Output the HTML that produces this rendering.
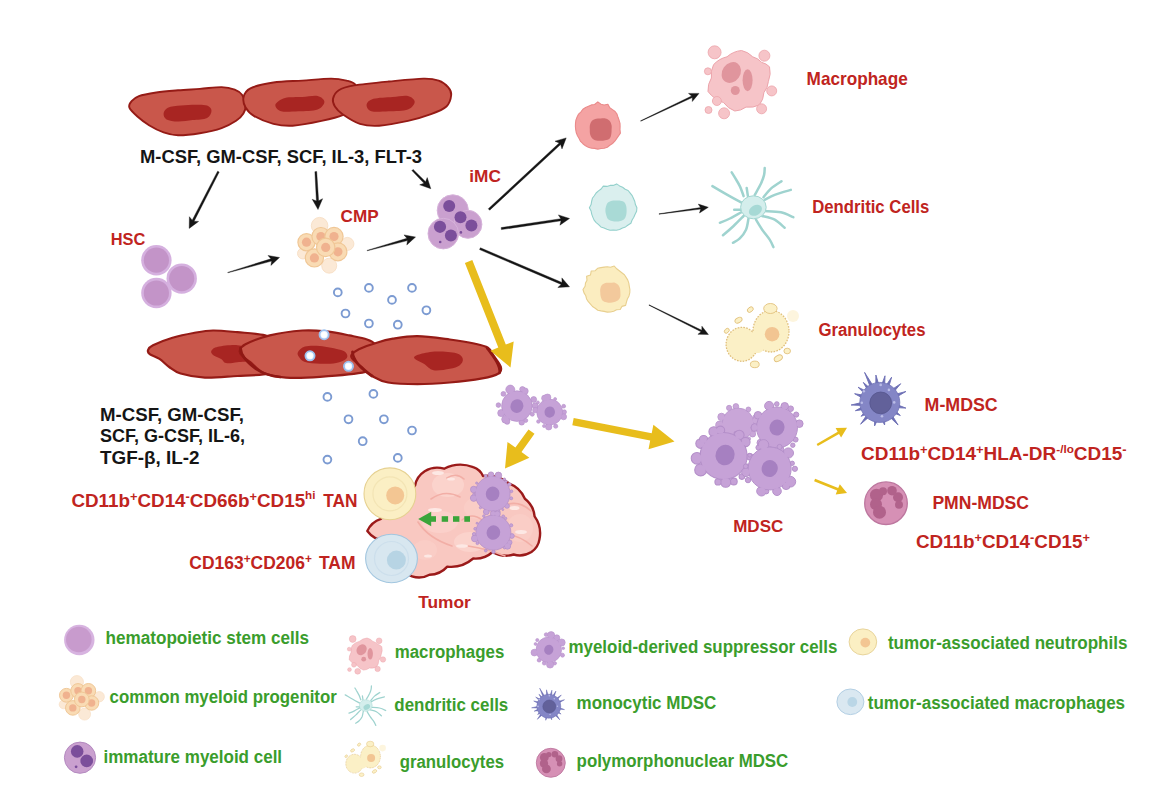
<!DOCTYPE html>
<html><head><meta charset="utf-8"><style>
html,body{margin:0;padding:0;background:#fff;width:1171px;height:804px;overflow:hidden}
svg{display:block}
text{font-family:"Liberation Sans",sans-serif}
</style></head><body>
<svg width="1171" height="804" viewBox="0 0 1171 804">
<rect width="1171" height="804" fill="#fff"/>
<path d="M129.4,107.7 C128.4,105.2 130.0,103.1 131.6,101.2 C133.2,99.3 134.8,97.5 138.9,96.1 C143.0,94.6 149.8,93.5 156.3,92.5 C162.8,91.5 170.8,90.9 178.0,90.3 C185.2,89.7 192.5,89.4 199.8,88.9 C207.1,88.4 215.8,87.0 221.6,87.1 C227.4,87.2 231.3,88.3 234.7,89.6 C238.1,90.9 240.2,92.2 242.0,94.7 C243.8,97.2 245.4,101.7 245.6,104.8 C245.8,107.9 245.0,110.9 243.4,113.6 C241.8,116.3 239.7,118.4 236.1,120.8 C232.5,123.2 227.6,126.0 221.6,128.1 C215.6,130.2 207.1,132.0 199.8,133.2 C192.5,134.4 184.0,135.4 178.0,135.3 C172.0,135.2 168.4,134.1 163.6,132.4 C158.8,130.7 153.4,127.9 149.0,125.2 C144.6,122.5 140.7,119.4 137.4,116.5 C134.1,113.6 130.4,110.2 129.4,107.7 Z" fill="#c9574b" stroke="#951b16" stroke-width="1.9"/><path d="M163.6,113.6 C163.8,111.6 165.0,109.0 167.9,107.7 C170.8,106.4 176.4,106.1 181.0,105.6 C185.6,105.1 191.2,104.8 195.5,104.8 C199.8,104.8 204.4,104.6 207.1,105.6 C209.8,106.6 211.5,108.7 211.5,110.7 C211.5,112.8 210.2,116.3 207.1,117.9 C203.9,119.5 197.4,119.5 192.6,120.1 C187.8,120.7 182.3,121.6 178.0,121.5 C173.7,121.4 168.9,120.7 166.5,119.4 C164.1,118.1 163.4,115.5 163.6,113.6 Z" fill="#a82522"/>
<path d="M243.6,96.9 C244.4,93.7 245.4,90.7 250.4,88.3 C255.4,85.9 264.8,83.8 273.4,82.5 C282.0,81.2 292.7,81.2 302.3,80.6 C311.9,79.9 323.7,78.6 331.1,78.6 C338.5,78.6 342.5,79.6 346.5,80.6 C350.5,81.6 353.2,82.0 355.1,84.4 C357.0,86.8 358.9,91.1 358.0,95.0 C357.1,98.9 352.6,104.6 350.0,108.0 C347.4,111.4 347.4,113.0 342.6,115.2 C337.9,117.4 329.8,119.2 321.5,120.9 C313.2,122.7 300.6,125.2 292.6,125.7 C284.6,126.2 279.8,125.4 273.4,123.8 C267.0,122.2 258.8,118.8 254.2,116.1 C249.6,113.4 247.4,110.7 245.6,107.5 C243.8,104.3 242.8,100.1 243.6,96.9 Z" fill="#c9574b" stroke="#951b16" stroke-width="1.9"/><path d="M275.4,104.6 C276.0,102.4 280.5,99.2 285.0,97.9 C289.5,96.6 296.9,97.2 302.3,96.9 C307.7,96.6 313.9,95.1 317.6,95.9 C321.3,96.7 324.4,99.5 324.4,101.7 C324.4,104.0 321.9,107.8 317.6,109.4 C313.3,111.0 304.5,111.0 298.4,111.3 C292.3,111.6 284.9,112.4 281.1,111.3 C277.3,110.2 274.8,106.8 275.4,104.6 Z" fill="#a82522"/>
<path d="M333.0,98.8 C333.6,96.1 335.3,92.4 338.8,90.2 C342.3,88.0 345.8,86.9 354.1,85.4 C362.4,84.0 377.2,82.6 388.7,81.5 C400.2,80.4 415.0,78.8 423.3,78.6 C431.6,78.4 434.5,79.1 438.7,80.6 C442.9,82.0 446.2,84.9 448.3,87.3 C450.4,89.7 451.5,91.8 451.2,95.0 C450.9,98.2 449.8,103.3 446.4,106.5 C443.0,109.7 437.4,111.8 431.0,114.2 C424.6,116.6 416.6,119.0 408.0,120.9 C399.4,122.8 387.1,125.2 379.1,125.7 C371.1,126.2 366.0,125.7 359.9,123.8 C353.8,121.9 346.8,117.1 342.6,114.2 C338.4,111.3 336.5,109.1 334.9,106.5 C333.3,103.9 332.4,101.5 333.0,98.8 Z" fill="#c9574b" stroke="#951b16" stroke-width="1.9"/><path d="M366.6,104.6 C366.9,102.5 369.1,100.1 373.4,98.8 C377.7,97.5 386.9,97.4 392.6,96.9 C398.4,96.4 404.2,95.1 407.9,95.9 C411.6,96.7 414.7,99.5 414.7,101.7 C414.7,104.0 412.2,107.8 407.9,109.4 C403.6,111.0 394.8,111.0 388.7,111.3 C382.6,111.6 375.1,112.4 371.4,111.3 C367.7,110.2 366.3,106.7 366.6,104.6 Z" fill="#a82522"/>
<path d="M148.1,350.0 C148.7,348.5 148.9,347.2 153.0,345.2 C157.1,343.2 165.8,339.8 172.5,337.8 C179.2,335.8 186.8,334.2 193.5,333.0 C200.2,331.8 205.7,330.6 213.0,330.5 C220.3,330.4 228.7,331.4 237.4,332.2 C246.1,333.0 257.9,333.3 265.0,335.4 C272.1,337.5 277.5,339.2 280.0,345.0 C282.5,350.8 282.8,365.1 280.0,370.0 C277.2,374.9 270.4,373.4 263.3,374.4 C256.2,375.4 247.1,375.5 237.4,376.0 C227.7,376.5 214.4,378.0 204.9,377.6 C195.4,377.2 186.6,375.3 180.6,373.5 C174.6,371.7 172.7,369.4 169.2,367.0 C165.7,364.6 162.8,361.0 159.5,358.9 C156.2,356.8 151.6,355.6 149.7,354.1 C147.8,352.6 147.5,351.5 148.1,350.0 Z" fill="#c9574b" stroke="#951b16" stroke-width="2.2"/><path d="M211.4,350.8 C212.2,349.5 213.6,347.7 217.9,346.8 C222.2,345.9 232.1,344.7 237.4,345.2 C242.8,345.7 247.9,347.5 250.0,350.0 C252.1,352.5 252.1,358.0 250.0,360.0 C247.9,362.0 241.4,361.7 237.4,362.2 C233.4,362.7 228.7,363.6 226.0,363.0 C223.3,362.4 223.3,360.2 221.1,358.9 C218.9,357.5 214.6,356.2 213.0,354.9 C211.4,353.5 210.6,352.1 211.4,350.8 Z" fill="#a82522"/>
<path d="M239.8,350.8 C240.4,348.9 240.5,346.9 245.5,344.3 C250.5,341.7 260.3,337.7 269.8,335.4 C279.3,333.1 292.8,331.2 302.3,330.5 C311.8,329.8 318.8,330.6 326.6,331.4 C334.4,332.2 342.5,334.0 349.2,335.4 C355.9,336.8 362.7,338.0 367.0,339.5 C371.3,341.0 373.4,342.2 375.2,344.3 C377.0,346.4 378.5,348.6 378.0,352.0 C377.5,355.4 374.1,361.7 372.0,365.0 C369.9,368.3 374.1,369.9 365.4,371.9 C356.7,373.9 333.2,375.9 320.0,376.8 C306.8,377.8 295.4,378.3 286.0,377.6 C276.6,376.9 269.2,375.3 263.3,372.7 C257.4,370.1 253.8,365.0 250.3,362.2 C246.8,359.4 243.9,357.6 242.2,355.7 C240.4,353.8 239.2,352.7 239.8,350.8 Z" fill="#c9574b" stroke="#951b16" stroke-width="2.2"/><path d="M298.0,352.0 C299.0,350.2 301.3,347.5 305.0,346.5 C308.7,345.5 314.0,345.4 320.0,346.0 C326.0,346.6 336.5,348.7 341.0,350.0 C345.5,351.3 346.0,352.5 346.8,354.0 C347.6,355.5 347.8,357.5 346.0,359.0 C344.2,360.5 340.5,362.2 336.2,363.0 C331.9,363.8 325.2,364.0 320.0,363.8 C314.8,363.6 308.5,363.1 305.0,362.0 C301.5,360.9 300.2,358.7 299.0,357.0 C297.8,355.3 297.0,353.8 298.0,352.0 Z" fill="#a82522"/>
<path d="M351.6,354.9 C352.7,353.3 354.7,351.2 358.9,349.2 C363.1,347.2 371.1,344.4 376.8,342.7 C382.5,340.9 386.2,339.8 393.0,338.7 C399.8,337.6 407.9,336.1 417.4,336.2 C426.9,336.3 440.4,338.3 449.8,339.5 C459.2,340.7 467.8,342.1 474.1,343.5 C480.5,344.9 484.6,345.6 487.9,347.6 C491.1,349.6 491.4,352.4 493.6,355.7 C495.8,358.9 500.1,364.1 500.9,367.1 C501.7,370.1 501.6,371.6 498.5,373.5 C495.4,375.4 490.4,376.9 482.3,378.4 C474.2,379.9 460.6,381.6 449.8,382.5 C439.0,383.4 427.7,384.1 417.4,384.1 C407.1,384.1 395.4,383.7 388.1,382.5 C380.8,381.3 378.1,379.5 373.5,376.8 C368.9,374.1 364.1,369.2 360.6,366.2 C357.1,363.2 354.0,360.8 352.5,358.9 C351.0,357.0 350.5,356.5 351.6,354.9 Z" fill="#c9574b" stroke="#951b16" stroke-width="2.2"/><path d="M414.1,358.1 C413.6,356.5 416.8,355.2 420.6,354.1 C424.4,353.0 430.9,351.7 436.8,351.6 C442.8,351.5 452.0,352.1 456.3,353.3 C460.6,354.5 462.3,356.9 462.8,358.9 C463.3,360.9 461.7,363.8 459.5,365.4 C457.3,367.0 454.1,367.9 449.8,368.7 C445.5,369.5 437.9,371.1 433.6,370.3 C429.3,369.5 427.1,365.8 423.8,363.8 C420.6,361.8 414.6,359.7 414.1,358.1 Z" fill="#a82522"/>
<path d="M240.5,348 C241,356 247,362 256,369 C262,373 270,376 280,377" fill="none" stroke="#8f1814" stroke-width="2.6" stroke-linecap="round"/>
<path d="M352.5,352 C353,360 360,368 372,376" fill="none" stroke="#8f1814" stroke-width="2.8" stroke-linecap="round"/><path d="M487,348 C493,356 501,366 499.5,373" fill="none" stroke="#8f1814" stroke-width="2.6" stroke-linecap="round"/>
<circle cx="337.8" cy="292.4" r="3.9" fill="#fff" stroke="#7c9bd2" stroke-width="1.9"/>
<circle cx="368.9" cy="287.9" r="3.9" fill="#fff" stroke="#7c9bd2" stroke-width="1.9"/>
<circle cx="412" cy="287.9" r="3.9" fill="#fff" stroke="#7c9bd2" stroke-width="1.9"/>
<circle cx="392" cy="299.9" r="3.9" fill="#fff" stroke="#7c9bd2" stroke-width="1.9"/>
<circle cx="345.5" cy="313.5" r="3.9" fill="#fff" stroke="#7c9bd2" stroke-width="1.9"/>
<circle cx="368.9" cy="323.5" r="3.9" fill="#fff" stroke="#7c9bd2" stroke-width="1.9"/>
<circle cx="397.8" cy="324.7" r="3.9" fill="#fff" stroke="#7c9bd2" stroke-width="1.9"/>
<circle cx="426.4" cy="310.3" r="3.9" fill="#fff" stroke="#7c9bd2" stroke-width="1.9"/>
<circle cx="327.4" cy="396.9" r="3.9" fill="#fff" stroke="#7c9bd2" stroke-width="1.9"/>
<circle cx="373.4" cy="393.9" r="3.9" fill="#fff" stroke="#7c9bd2" stroke-width="1.9"/>
<circle cx="348.5" cy="419.3" r="3.9" fill="#fff" stroke="#7c9bd2" stroke-width="1.9"/>
<circle cx="383.9" cy="419.3" r="3.9" fill="#fff" stroke="#7c9bd2" stroke-width="1.9"/>
<circle cx="412" cy="430.5" r="3.9" fill="#fff" stroke="#7c9bd2" stroke-width="1.9"/>
<circle cx="362.7" cy="441.2" r="3.9" fill="#fff" stroke="#7c9bd2" stroke-width="1.9"/>
<circle cx="327.4" cy="459.6" r="3.9" fill="#fff" stroke="#7c9bd2" stroke-width="1.9"/>
<circle cx="397.8" cy="457.9" r="3.9" fill="#fff" stroke="#7c9bd2" stroke-width="1.9"/>
<circle cx="324.1" cy="334.7" r="4.6" fill="#eef4ff" stroke="#9cc0ee" stroke-width="1.8"/>
<circle cx="324.1" cy="334.7" r="2.8" fill="#fff"/>
<circle cx="310" cy="355.8" r="4.6" fill="#eef4ff" stroke="#9cc0ee" stroke-width="1.8"/>
<circle cx="310" cy="355.8" r="2.8" fill="#fff"/>
<circle cx="348.5" cy="366.3" r="4.6" fill="#eef4ff" stroke="#9cc0ee" stroke-width="1.8"/>
<circle cx="348.5" cy="366.3" r="2.8" fill="#fff"/>
<circle cx="156.4" cy="260.2" r="15.2" fill="#d5b0df"/><circle cx="156.4" cy="260.2" r="12.6" fill="#c394c8"/>
<circle cx="181.7" cy="278.6" r="15.2" fill="#d5b0df"/><circle cx="181.7" cy="278.6" r="12.6" fill="#c394c8"/>
<circle cx="156.4" cy="293" r="15.2" fill="#d5b0df"/><circle cx="156.4" cy="293" r="12.6" fill="#c394c8"/>
<circle cx="319.6" cy="225.7" r="8.3" fill="#fbe9d6" stroke="#f6dcc0" stroke-width="0.8"/><circle cx="347.4" cy="243.9" r="6.5" fill="#fbe9d6" stroke="#f6dcc0" stroke-width="0.8"/><circle cx="329.2" cy="265.7" r="7.5" fill="#fbe9d6" stroke="#f6dcc0" stroke-width="0.8"/><circle cx="303.0" cy="253.5" r="5.5" fill="#fbe9d6" stroke="#f6dcc0" stroke-width="0.8"/><circle cx="306.5" cy="242.2" r="8.6" fill="#f9dbb4" stroke="#f0c796" stroke-width="1.2"/><circle cx="306.5" cy="242.2" r="4.6" fill="#f0b28f"/><circle cx="320.9" cy="236.5" r="9.0" fill="#f9dbb4" stroke="#f0c796" stroke-width="1.2"/><circle cx="320.9" cy="236.5" r="4.6" fill="#f0b28f"/><circle cx="334.0" cy="236.5" r="9.1" fill="#f9dbb4" stroke="#f0c796" stroke-width="1.2"/><circle cx="334.0" cy="236.5" r="4.6" fill="#f0b28f"/><circle cx="337.9" cy="251.8" r="9.0" fill="#f9dbb4" stroke="#f0c796" stroke-width="1.2"/><circle cx="337.9" cy="251.8" r="4.6" fill="#f0b28f"/><circle cx="314.4" cy="257.9" r="9.1" fill="#f9dbb4" stroke="#f0c796" stroke-width="1.2"/><circle cx="314.4" cy="257.9" r="4.6" fill="#f0b28f"/><circle cx="325.7" cy="247.4" r="9.2" fill="#f9dbb4" stroke="#f0c796" stroke-width="1.2"/><circle cx="325.7" cy="247.4" r="4.6" fill="#f0b28f"/>
<circle cx="452.8" cy="210.4" r="15.6" fill="#caa0cf" stroke="#d6b2da" stroke-width="1.0"/><circle cx="467.9" cy="224.3" r="14.0" fill="#caa0cf" stroke="#d6b2da" stroke-width="1.0"/><circle cx="443.3" cy="233.6" r="15.3" fill="#caa0cf" stroke="#d6b2da" stroke-width="1.0"/><circle cx="449.2" cy="205.9" r="6.0" fill="#7b4e9b"/><circle cx="460.5" cy="217.2" r="6.0" fill="#7b4e9b"/><circle cx="471.4" cy="225.5" r="6.0" fill="#7b4e9b"/><circle cx="440.0" cy="226.8" r="6.1" fill="#7b4e9b"/><circle cx="450.9" cy="235.5" r="6.0" fill="#7b4e9b"/><circle cx="460.9" cy="232.4" r="1.3" fill="#7b4e9b"/><circle cx="440.2" cy="242.0" r="1.3" fill="#7b4e9b"/>
<polygon points="217.6,171.2 192.2,220.2 189.4,216.7 189.2,228.4 198.6,221.4 194.1,221.2 219.2,172.0" fill="#151515" stroke="#151515" stroke-width="0.4" stroke-linejoin="round"/>
<polygon points="314.9,171.7 316.4,201.0 312.2,199.3 318.0,209.5 322.6,198.7 318.6,200.8 316.7,171.5" fill="#151515" stroke="#151515" stroke-width="0.4" stroke-linejoin="round"/>
<polygon points="411.9,170.6 424.0,183.3 419.7,184.8 430.8,188.7 427.2,177.6 425.6,181.8 413.1,169.4" fill="#151515" stroke="#151515" stroke-width="0.4" stroke-linejoin="round"/>
<polygon points="227.9,272.8 271.6,261.1 270.9,265.4 279.5,257.5 268.0,255.5 270.9,258.8 227.7,272.4" fill="#151515" stroke="#151515" stroke-width="0.4" stroke-linejoin="round"/>
<polygon points="367.2,250.8 407.5,240.6 406.8,244.9 415.5,237.1 404.0,234.9 406.9,238.3 367.0,250.4" fill="#151515" stroke="#151515" stroke-width="0.4" stroke-linejoin="round"/>
<polygon points="489.7,210.2 560.6,144.5 562.0,148.9 566.2,137.9 555.0,141.2 559.2,143.0 488.3,208.8" fill="#151515" stroke="#151515" stroke-width="0.4" stroke-linejoin="round"/>
<polygon points="501.4,229.6 561.1,220.8 559.9,225.2 569.5,218.5 558.4,214.9 560.8,218.7 501.2,227.6" fill="#151515" stroke="#151515" stroke-width="0.4" stroke-linejoin="round"/>
<polygon points="479.6,249.6 561.2,284.4 557.8,287.5 569.5,286.8 561.9,277.9 562.0,282.5 480.4,247.8" fill="#151515" stroke="#151515" stroke-width="0.4" stroke-linejoin="round"/>
<polygon points="640.8,121.2 692.3,97.5 692.3,101.5 699.0,93.4 688.5,93.4 691.6,96.0 640.6,120.8" fill="#151515" stroke="#151515" stroke-width="0.4" stroke-linejoin="round"/>
<polygon points="659.0,214.2 700.7,209.1 699.5,213.0 708.3,207.3 698.3,204.1 700.5,207.6 659.0,213.8" fill="#151515" stroke="#151515" stroke-width="0.4" stroke-linejoin="round"/>
<polygon points="648.9,305.2 701.1,331.8 697.9,334.3 708.4,334.5 701.9,326.2 701.8,330.3 649.1,304.8" fill="#151515" stroke="#151515" stroke-width="0.4" stroke-linejoin="round"/>
<path d="M620.1,126.5 L620.0,129.7 L620.4,133.1 L618.5,135.9 L616.6,138.6 L614.8,141.2 L612.5,143.5 L609.8,145.2 L607.3,147.2 L604.2,148.3 L601.0,148.5 L597.8,149.1 L594.6,148.4 L591.5,148.1 L588.3,147.2 L585.5,145.7 L582.9,143.7 L580.6,141.4 L579.1,138.5 L577.5,135.8 L576.3,132.8 L575.7,129.7 L575.4,126.5 L575.5,123.3 L575.9,120.1 L577.1,117.0 L578.6,114.1 L581.0,111.9 L582.9,109.2 L585.6,107.5 L588.5,106.2 L591.4,104.9 L594.6,104.5 L597.8,101.9 L601.0,104.3 L604.1,105.0 L607.9,104.3 L609.8,107.8 L612.5,109.6 L615.1,111.5 L617.0,114.1 L618.0,117.3 L619.1,120.3 L620.0,123.3Z" fill="#f4a3a3" stroke="#ea8a8a" stroke-width="1.1" stroke-linejoin="round"/><path d="M611.6,129.5 C611.6,131.0 611.6,132.4 611.3,133.9 C611.0,135.3 610.7,137.4 609.7,138.4 C608.7,139.5 606.7,139.8 605.2,140.2 C603.7,140.6 602.3,140.7 600.8,140.8 C599.3,140.9 597.7,140.9 596.2,140.5 C594.8,140.1 593.1,139.3 592.1,138.2 C591.1,137.1 590.4,135.4 590.0,134.0 C589.7,132.5 589.8,131.0 589.8,129.5 C589.7,128.0 589.6,126.5 589.9,125.0 C590.3,123.5 590.9,121.8 592.0,120.7 C593.1,119.7 594.9,119.1 596.3,118.7 C597.8,118.3 599.3,118.4 600.8,118.4 C602.3,118.4 603.9,118.1 605.4,118.5 C606.8,118.9 608.5,119.7 609.6,120.7 C610.6,121.8 611.2,123.6 611.5,125.1 C611.9,126.5 611.7,128.0 611.6,129.5 Z" fill="#d06d70"/>
<path d="M636.9,207.8 L636.6,211.2 L635.1,214.2 L633.8,217.2 L632.1,220.0 L630.9,223.2 L628.1,225.0 L625.5,226.9 L622.5,228.1 L619.6,229.5 L616.4,230.3 L613.2,230.0 L610.0,230.2 L606.9,229.2 L604.0,228.0 L600.9,226.9 L598.6,224.7 L596.2,222.6 L594.1,220.1 L592.8,217.1 L591.7,214.1 L591.1,211.0 L589.4,207.8 L591.1,204.6 L591.6,201.5 L592.4,198.3 L594.3,195.7 L596.1,193.0 L598.5,190.9 L601.1,189.0 L603.3,186.1 L606.9,186.4 L610.0,185.4 L613.2,185.4 L616.6,183.9 L619.6,185.9 L622.6,187.2 L625.2,189.2 L628.1,190.5 L630.2,193.1 L632.2,195.6 L633.5,198.5 L634.8,201.5 L635.4,204.6Z" fill="#daefee" stroke="#93d0cb" stroke-width="1.1" stroke-linejoin="round"/><path d="M626.6,210.8 C626.6,212.2 626.6,213.6 626.2,214.9 C625.8,216.3 625.3,218.0 624.3,218.9 C623.4,219.9 621.7,220.5 620.4,220.9 C619.0,221.3 617.6,221.5 616.2,221.5 C614.8,221.5 613.4,221.4 612.0,221.0 C610.6,220.6 608.9,220.0 608.0,219.0 C607.0,218.0 606.6,216.3 606.2,215.0 C605.7,213.6 605.4,212.2 605.4,210.8 C605.4,209.4 605.5,207.9 606.0,206.6 C606.4,205.2 607.0,203.6 608.0,202.6 C609.0,201.6 610.7,201.1 612.1,200.8 C613.4,200.4 614.8,200.6 616.2,200.6 C617.6,200.6 619.0,200.4 620.4,200.7 C621.8,201.0 623.6,201.4 624.6,202.4 C625.6,203.4 625.9,205.2 626.3,206.6 C626.6,208.0 626.6,209.4 626.6,210.8 Z" fill="#a9dad6"/>
<path d="M629.9,289.5 L629.8,292.7 L629.0,295.9 L627.5,298.7 L626.5,301.8 L625.6,305.4 L621.9,306.4 L620.2,309.5 L616.6,309.8 L613.7,311.3 L610.5,312.0 L607.3,312.1 L604.1,311.4 L601.0,310.9 L597.8,310.3 L595.2,308.3 L592.5,306.5 L590.5,304.1 L588.3,301.7 L586.6,299.0 L585.8,295.8 L584.0,292.9 L583.0,289.5 L585.1,286.3 L585.5,283.1 L587.0,280.2 L586.6,276.2 L590.5,275.0 L591.2,271.0 L595.2,270.7 L597.6,268.3 L600.9,267.6 L604.1,267.1 L607.3,266.7 L610.5,267.3 L614.2,266.0 L616.7,268.8 L619.3,270.8 L621.8,272.7 L624.4,274.7 L626.1,277.4 L627.8,280.1 L628.8,283.2 L629.3,286.3Z" fill="#fbedc0" stroke="#e8cf8e" stroke-width="1.1" stroke-linejoin="round"/><path d="M620.4,292.5 C620.4,293.9 620.7,295.4 620.3,296.7 C619.9,297.9 619.1,299.4 618.1,300.3 C617.1,301.2 615.5,301.6 614.2,302.0 C612.9,302.4 611.6,302.7 610.3,302.8 C609.0,302.8 607.6,302.7 606.3,302.3 C604.9,301.9 603.3,301.3 602.4,300.4 C601.5,299.4 601.1,297.8 600.7,296.5 C600.3,295.2 600.3,293.8 600.3,292.5 C600.2,291.2 600.0,289.7 600.4,288.4 C600.7,287.1 601.4,285.5 602.4,284.6 C603.4,283.7 605.0,283.1 606.3,282.8 C607.6,282.5 608.9,282.8 610.3,282.8 C611.7,282.7 613.1,282.2 614.4,282.5 C615.7,282.9 617.1,283.8 618.0,284.8 C619.0,285.8 619.7,287.2 620.0,288.5 C620.4,289.7 620.3,291.1 620.4,292.5 Z" fill="#f3c99c"/>
<path d="M741.5,50.5 Q748.1,51.9 752.7,56.8 Q758.1,58.2 761.7,62.4 Q766.3,63.4 769.5,66.8 Q771.3,74.3 768.4,81.4 Q767.9,87.7 763.9,92.6 Q763.6,99.5 759.4,104.9 Q753.1,108.1 746.0,107.1 Q741.0,110.8 734.8,111.0 Q727.9,108.6 723.6,102.6 Q714.0,99.5 708.0,91.5 Q707.5,84.2 711.4,78.0 Q710.4,70.9 713.6,64.6 Q719.1,58.6 727.0,56.8 Q733.2,51.3 741.5,50.5 Z" fill="#f6c4c8" stroke="#eca4ab" stroke-width="1.0" stroke-linejoin="round"/><circle cx="714.6" cy="52.3" r="6.5" fill="#f6c4c8" stroke="#eca4ab" stroke-width="0.8"/><circle cx="764.4" cy="55.7" r="5.5" fill="#f6c4c8" stroke="#eca4ab" stroke-width="0.8"/><circle cx="707.9" cy="71.3" r="3.5" fill="#f6c4c8" stroke="#eca4ab" stroke-width="0.8"/><circle cx="771.7" cy="90.9" r="5.0" fill="#f6c4c8" stroke="#eca4ab" stroke-width="0.8"/><circle cx="716.9" cy="101.0" r="4.5" fill="#f6c4c8" stroke="#eca4ab" stroke-width="0.8"/><circle cx="708.5" cy="110.0" r="3.5" fill="#f6c4c8" stroke="#eca4ab" stroke-width="0.8"/><circle cx="724.1" cy="113.3" r="5.5" fill="#f6c4c8" stroke="#eca4ab" stroke-width="0.8"/><circle cx="761.6" cy="108.8" r="5.0" fill="#f6c4c8" stroke="#eca4ab" stroke-width="0.8"/><ellipse cx="731.3" cy="72.5" rx="9.0" ry="11.0" transform="rotate(35 731.3 72.5)" fill="#e0959d"/><ellipse cx="747.6" cy="80.3" rx="5.0" ry="11.0" fill="#e0959d"/><circle cx="735.3" cy="90.5" r="4.5" fill="#e0959d"/>
<path d="M741.1,202.3 C738.8,201.1 732.2,197.5 727.4,194.8 C722.6,192.1 714.9,187.6 712.4,186.1  M743.6,196.1 C743.0,194.4 741.3,189.2 739.8,186.1 C738.3,183.0 736.1,179.7 734.8,177.4 C733.4,175.1 732.2,173.2 731.7,172.4  M747.9,196.1 L746.7,188.0 M754.8,194.8 C755.8,192.9 759.5,186.9 761.0,183.6 C762.5,180.3 763.5,177.5 764.1,174.9 C764.7,172.3 764.6,169.2 764.7,168.1  M763.5,197.3 C764.7,195.9 767.9,191.3 770.9,188.6 C773.9,185.9 779.7,182.4 781.5,181.2  M764.7,199.8 C766.4,199.0 770.4,196.5 774.7,194.8 C779.1,193.2 788.1,190.7 790.8,189.9  M764.7,211.0 C767.4,211.2 776.1,211.3 780.9,212.3 C785.7,213.3 791.2,216.4 793.3,217.2  M762.2,216.0 C764.3,216.6 771.0,217.7 774.7,219.7 C778.4,221.7 783.0,226.5 784.6,227.8  M756.0,219.7 C757.0,221.4 759.9,226.4 762.2,229.7 C764.5,233.0 767.8,236.7 769.7,239.6 C771.6,242.5 772.8,245.8 773.4,247.1  M748.5,218.5 C748.1,220.4 747.5,226.4 746.0,229.7 C744.5,233.0 742.0,236.2 739.8,238.4 C737.6,240.6 734.1,242.1 733.0,242.8  M743.6,216.0 C741.9,217.7 737.0,222.8 733.6,226.0 C730.2,229.2 724.8,233.8 723.0,235.3  M741.1,212.3 C739.2,213.3 733.4,216.8 729.9,218.5 C726.4,220.2 721.6,222.1 719.9,222.8  M741.1,209.8 L734.2,209.8 " fill="none" stroke="#9fd3cf" stroke-width="2.50" stroke-linecap="round"/><ellipse cx="753.4" cy="207.3" rx="12.8" ry="11.5" fill="#d4eeec" stroke="#a3d6d1" stroke-width="1.0"/><ellipse cx="755.4" cy="210.3" rx="7.0" ry="5.0" transform="rotate(-30 755.4 210.3)" fill="#a6d9d5"/>
<ellipse cx="741.9" cy="344.3" rx="15.8" ry="17.0" fill="#fbf0c6" stroke="#e0bf7c" stroke-width="1.30" stroke-dasharray="1.60 1.30"/><ellipse cx="771.0" cy="331.2" rx="18.0" ry="20.8" fill="#fbf0c6" stroke="#e0bf7c" stroke-width="1.30" stroke-dasharray="1.60 1.30"/><ellipse cx="757.0" cy="342.1" rx="9.0" ry="11.0" fill="#fbf0c6"/><circle cx="772.1" cy="334.2" r="7.3" fill="#f2c592"/><ellipse cx="770.4" cy="308.5" rx="6.7" ry="5.0" transform="rotate(0 770.4 308.5)" fill="#fbf0c6" stroke="#e2c27e" stroke-width="0.9"/><ellipse cx="750.3" cy="309.6" rx="3.3" ry="2.3" transform="rotate(-40 750.3 309.6)" fill="#fbf0c6" stroke="#e2c27e" stroke-width="0.9"/><ellipse cx="738.5" cy="320.2" rx="3.8" ry="2.5" transform="rotate(-30 738.5 320.2)" fill="#fbf0c6" stroke="#e2c27e" stroke-width="0.9"/><ellipse cx="726.8" cy="330.8" rx="2.8" ry="2.0" transform="rotate(-45 726.8 330.8)" fill="#fbf0c6" stroke="#e2c27e" stroke-width="0.9"/><ellipse cx="754.8" cy="364.4" rx="4.4" ry="3.3" transform="rotate(0 754.8 364.4)" fill="#fbf0c6" stroke="#e2c27e" stroke-width="0.9"/><ellipse cx="778.3" cy="358.3" rx="4.4" ry="2.8" transform="rotate(-30 778.3 358.3)" fill="#fbf0c6" stroke="#e2c27e" stroke-width="0.9"/><ellipse cx="787.2" cy="351.0" rx="3.3" ry="2.8" transform="rotate(0 787.2 351.0)" fill="#fbf0c6" stroke="#e2c27e" stroke-width="0.9"/><circle cx="793.0" cy="316.1" r="6.0" fill="#fcf3d6" opacity="0.8"/>
<polygon points="464.9,262.9 498.3,347.6 490.4,350.7 510.5,367.5 513.7,341.5 505.8,344.6 472.3,259.9" fill="#e8bd1c"/>
<polygon points="528.5,429.4 515.4,447.6 507.5,441.9 505.0,468.5 529.4,457.7 521.5,452.0 534.5,433.8" fill="#e8bd1c"/>
<polygon points="572.3,425.3 650.2,440.6 648.5,449.2 674.5,441.6 653.4,424.7 651.7,433.3 573.7,417.9" fill="#e8bd1c"/>
<polygon points="817.8,446.1 839.0,433.9 841.1,437.6 847.0,427.8 835.6,428.0 837.7,431.7 816.6,443.9" fill="#e8bd1c"/>
<polygon points="814.1,481.2 837.2,490.5 835.7,494.4 847.0,493.0 839.8,484.2 838.2,488.1 815.1,478.8" fill="#e8bd1c"/>
<circle cx="535.2" cy="405.8" r="3.0" fill="#c6a2d7" stroke="#b48fc9" stroke-width="0.69"/><circle cx="532.3" cy="414.2" r="2.0" fill="#c6a2d7" stroke="#b48fc9" stroke-width="0.69"/><circle cx="525.8" cy="420.5" r="1.9" fill="#c6a2d7" stroke="#b48fc9" stroke-width="0.69"/><circle cx="521.7" cy="422.4" r="2.7" fill="#c6a2d7" stroke="#b48fc9" stroke-width="0.69"/><circle cx="507.2" cy="421.7" r="2.6" fill="#c6a2d7" stroke="#b48fc9" stroke-width="0.69"/><circle cx="505.6" cy="419.3" r="3.9" fill="#c6a2d7" stroke="#b48fc9" stroke-width="0.69"/><circle cx="501.2" cy="413.1" r="3.5" fill="#c6a2d7" stroke="#b48fc9" stroke-width="0.69"/><circle cx="498.4" cy="405.1" r="2.3" fill="#c6a2d7" stroke="#b48fc9" stroke-width="0.69"/><circle cx="503.4" cy="393.9" r="2.4" fill="#c6a2d7" stroke="#b48fc9" stroke-width="0.69"/><circle cx="510.3" cy="389.6" r="4.5" fill="#c6a2d7" stroke="#b48fc9" stroke-width="0.69"/><circle cx="522.4" cy="389.3" r="2.7" fill="#c6a2d7" stroke="#b48fc9" stroke-width="0.69"/><circle cx="525.0" cy="391.1" r="3.2" fill="#c6a2d7" stroke="#b48fc9" stroke-width="0.69"/><circle cx="533.7" cy="399.5" r="2.9" fill="#c6a2d7" stroke="#b48fc9" stroke-width="0.69"/><circle cx="516.9" cy="406.1" r="15.3" fill="#c6a2d7" stroke="#b48fc9" stroke-width="0.69"/><circle cx="535.2" cy="405.8" r="2.3" fill="#c6a2d7"/><circle cx="532.3" cy="414.2" r="1.3" fill="#c6a2d7"/><circle cx="525.8" cy="420.5" r="1.2" fill="#c6a2d7"/><circle cx="521.7" cy="422.4" r="2.0" fill="#c6a2d7"/><circle cx="507.2" cy="421.7" r="1.9" fill="#c6a2d7"/><circle cx="505.6" cy="419.3" r="3.2" fill="#c6a2d7"/><circle cx="501.2" cy="413.1" r="2.8" fill="#c6a2d7"/><circle cx="498.4" cy="405.1" r="1.7" fill="#c6a2d7"/><circle cx="503.4" cy="393.9" r="1.7" fill="#c6a2d7"/><circle cx="510.3" cy="389.6" r="3.8" fill="#c6a2d7"/><circle cx="522.4" cy="389.3" r="2.0" fill="#c6a2d7"/><circle cx="525.0" cy="391.1" r="2.6" fill="#c6a2d7"/><circle cx="533.7" cy="399.5" r="2.2" fill="#c6a2d7"/><ellipse cx="516.9" cy="406.1" rx="6.4" ry="6.9" transform="rotate(20 516.9 406.1)" fill="#a680c1"/>
<circle cx="564.3" cy="412.0" r="2.2" fill="#c6a2d7" stroke="#b48fc9" stroke-width="0.58"/><circle cx="563.6" cy="416.8" r="3.0" fill="#c6a2d7" stroke="#b48fc9" stroke-width="0.58"/><circle cx="555.7" cy="426.2" r="2.1" fill="#c6a2d7" stroke="#b48fc9" stroke-width="0.58"/><circle cx="548.7" cy="426.8" r="3.2" fill="#c6a2d7" stroke="#b48fc9" stroke-width="0.58"/><circle cx="544.0" cy="426.0" r="1.5" fill="#c6a2d7" stroke="#b48fc9" stroke-width="0.58"/><circle cx="538.4" cy="421.5" r="1.8" fill="#c6a2d7" stroke="#b48fc9" stroke-width="0.58"/><circle cx="535.3" cy="410.1" r="2.7" fill="#c6a2d7" stroke="#b48fc9" stroke-width="0.58"/><circle cx="537.9" cy="402.4" r="1.5" fill="#c6a2d7" stroke="#b48fc9" stroke-width="0.58"/><circle cx="544.7" cy="398.2" r="3.1" fill="#c6a2d7" stroke="#b48fc9" stroke-width="0.58"/><circle cx="547.5" cy="397.4" r="3.4" fill="#c6a2d7" stroke="#b48fc9" stroke-width="0.58"/><circle cx="555.1" cy="399.0" r="1.5" fill="#c6a2d7" stroke="#b48fc9" stroke-width="0.58"/><circle cx="563.7" cy="406.2" r="1.9" fill="#c6a2d7" stroke="#b48fc9" stroke-width="0.58"/><circle cx="549.7" cy="412.1" r="13" fill="#c6a2d7" stroke="#b48fc9" stroke-width="0.58"/><circle cx="564.3" cy="412.0" r="1.6" fill="#c6a2d7"/><circle cx="563.6" cy="416.8" r="2.4" fill="#c6a2d7"/><circle cx="555.7" cy="426.2" r="1.5" fill="#c6a2d7"/><circle cx="548.7" cy="426.8" r="2.6" fill="#c6a2d7"/><circle cx="544.0" cy="426.0" r="0.9" fill="#c6a2d7"/><circle cx="538.4" cy="421.5" r="1.2" fill="#c6a2d7"/><circle cx="535.3" cy="410.1" r="2.1" fill="#c6a2d7"/><circle cx="537.9" cy="402.4" r="1.0" fill="#c6a2d7"/><circle cx="544.7" cy="398.2" r="2.6" fill="#c6a2d7"/><circle cx="547.5" cy="397.4" r="2.8" fill="#c6a2d7"/><circle cx="555.1" cy="399.0" r="0.9" fill="#c6a2d7"/><circle cx="563.7" cy="406.2" r="1.3" fill="#c6a2d7"/><ellipse cx="549.7" cy="412.1" rx="5.2" ry="5.6" transform="rotate(20 549.7 412.1)" fill="#a680c1"/>
<path d="M415.0,485.7 Q416.7,476.3 424.7,471.2 Q433.8,465.7 444.1,468.7 Q458.3,461.5 473.2,467.1 Q480.1,469.4 483.0,476.0 Q497.5,474.0 508.8,483.3 Q520.2,487.5 524.9,498.7 Q533.6,505.4 534.6,516.4 Q542.0,526.7 539.5,539.1 Q538.3,547.3 531.4,552.0 Q523.0,557.2 513.6,554.5 Q502.6,557.9 492.6,552.0 Q484.3,559.5 473.2,558.5 Q462.0,568.2 447.3,566.6 Q440.2,574.6 429.5,574.7 Q421.1,579.4 412.0,576.3 Q400.4,572.9 395.0,562.0 Q385.0,553.7 384.3,540.7 Q373.7,539.6 367.3,531.0 Q371.5,521.9 381.0,518.9 Q391.4,505.1 408.5,503.5 Q407.8,493.2 415.0,485.7 Z" fill="#f9c8c1" stroke="#9b1a1a" stroke-width="2.4" stroke-linejoin="round"/>
<ellipse cx="448" cy="485" rx="16" ry="12" fill="#fbd3cc"/>
<ellipse cx="478" cy="508" rx="14" ry="11" fill="#facdc6"/>
<ellipse cx="440" cy="522" rx="18" ry="11" fill="#fbd0ca"/>
<ellipse cx="520" cy="528" rx="13" ry="14" fill="#facdc6"/>
<ellipse cx="470" cy="542" rx="16" ry="10" fill="#fbd3cc"/>
<ellipse cx="425" cy="550" rx="12" ry="10" fill="#facdc6"/>
<path d="M431,499 Q445,489 460,497 M447,478 Q456,472 464,479 M418,522 Q428,538 452,546 M468,546 Q488,549 505,556 M503,506 Q518,499 531,511 M498,536 Q514,531 532,546 M462,520 Q472,512 482,520" fill="none" stroke="#f2aea6" stroke-width="1.6" stroke-linecap="round"/>
<ellipse cx="438" cy="473" rx="6" ry="2" fill="#fde8e4"/>
<ellipse cx="451" cy="479" rx="4" ry="1.6" fill="#fde8e4"/>
<ellipse cx="435" cy="510" rx="7" ry="2" fill="#fde8e4"/>
<ellipse cx="514.5" cy="508" rx="5" ry="2" fill="#fde8e4"/>
<ellipse cx="521" cy="532" rx="6" ry="2" fill="#fde8e4"/>
<ellipse cx="462" cy="546" rx="6" ry="1.8" fill="#fde8e4"/>
<ellipse cx="428" cy="556" rx="4" ry="1.6" fill="#fde8e4"/>
<circle cx="389.9" cy="493.8" r="25.9" fill="#fbefc4" stroke="#e6d191" stroke-width="1.1"/><circle cx="389.9" cy="493.8" r="17" fill="none" stroke="#efe0ae" stroke-width="1.2" opacity="0.7"/><circle cx="395.2" cy="495.4" r="9" fill="#f3c693"/>
<ellipse cx="391.5" cy="558.5" rx="25.9" ry="24.2" fill="#d8e7f0" stroke="#a2c6df" stroke-width="1.1"/><circle cx="391.5" cy="558.5" r="17" fill="none" stroke="#c8dcea" stroke-width="1.2" opacity="0.7"/><circle cx="396.4" cy="560.1" r="9.5" fill="#b7d4e4"/>
<g fill="#3aa53a"><rect x="441.7" y="516.2" width="6.4" height="5.6"/><rect x="453" y="516.2" width="6.4" height="5.6"/><rect x="464.3" y="516.2" width="5.7" height="5.6"/><rect x="430" y="516.2" width="6" height="5.6"/><polygon points="418.2,519 431.2,511.8 431.2,526.2"/></g>
<circle cx="511.4" cy="491.3" r="1.4" fill="#c6a2d7" stroke="#b48fc9" stroke-width="0.79"/><circle cx="511.2" cy="498.3" r="1.5" fill="#c6a2d7" stroke="#b48fc9" stroke-width="0.79"/><circle cx="507.0" cy="505.9" r="2.4" fill="#c6a2d7" stroke="#b48fc9" stroke-width="0.79"/><circle cx="502.8" cy="509.6" r="1.0" fill="#c6a2d7" stroke="#b48fc9" stroke-width="0.79"/><circle cx="497.8" cy="511.9" r="2.4" fill="#c6a2d7" stroke="#b48fc9" stroke-width="0.79"/><circle cx="485.5" cy="511.8" r="1.6" fill="#c6a2d7" stroke="#b48fc9" stroke-width="0.79"/><circle cx="486.3" cy="511.8" r="2.9" fill="#c6a2d7" stroke="#b48fc9" stroke-width="0.79"/><circle cx="480.5" cy="507.6" r="1.2" fill="#c6a2d7" stroke="#b48fc9" stroke-width="0.79"/><circle cx="473.7" cy="498.1" r="3.3" fill="#c6a2d7" stroke="#b48fc9" stroke-width="0.79"/><circle cx="473.9" cy="494.2" r="1.2" fill="#c6a2d7" stroke="#b48fc9" stroke-width="0.79"/><circle cx="473.8" cy="489.5" r="3.3" fill="#c6a2d7" stroke="#b48fc9" stroke-width="0.79"/><circle cx="476.7" cy="483.1" r="1.1" fill="#c6a2d7" stroke="#b48fc9" stroke-width="0.79"/><circle cx="485.7" cy="475.9" r="1.5" fill="#c6a2d7" stroke="#b48fc9" stroke-width="0.79"/><circle cx="491.0" cy="474.8" r="2.9" fill="#c6a2d7" stroke="#b48fc9" stroke-width="0.79"/><circle cx="498.4" cy="475.4" r="3.3" fill="#c6a2d7" stroke="#b48fc9" stroke-width="0.79"/><circle cx="504.4" cy="479.2" r="1.2" fill="#c6a2d7" stroke="#b48fc9" stroke-width="0.79"/><circle cx="506.0" cy="481.4" r="1.2" fill="#c6a2d7" stroke="#b48fc9" stroke-width="0.79"/><circle cx="509.4" cy="484.4" r="1.7" fill="#c6a2d7" stroke="#b48fc9" stroke-width="0.79"/><circle cx="492.6" cy="493.8" r="17.5" fill="#c6a2d7" stroke="#b48fc9" stroke-width="0.79"/><circle cx="511.4" cy="491.3" r="0.6" fill="#c6a2d7"/><circle cx="511.2" cy="498.3" r="0.8" fill="#c6a2d7"/><circle cx="507.0" cy="505.9" r="1.6" fill="#c6a2d7"/><circle cx="502.8" cy="509.6" r="0.3" fill="#c6a2d7"/><circle cx="497.8" cy="511.9" r="1.6" fill="#c6a2d7"/><circle cx="485.5" cy="511.8" r="0.8" fill="#c6a2d7"/><circle cx="486.3" cy="511.8" r="2.1" fill="#c6a2d7"/><circle cx="480.5" cy="507.6" r="0.4" fill="#c6a2d7"/><circle cx="473.7" cy="498.1" r="2.5" fill="#c6a2d7"/><circle cx="473.9" cy="494.2" r="0.4" fill="#c6a2d7"/><circle cx="473.8" cy="489.5" r="2.5" fill="#c6a2d7"/><circle cx="476.7" cy="483.1" r="0.3" fill="#c6a2d7"/><circle cx="485.7" cy="475.9" r="0.7" fill="#c6a2d7"/><circle cx="491.0" cy="474.8" r="2.1" fill="#c6a2d7"/><circle cx="498.4" cy="475.4" r="2.5" fill="#c6a2d7"/><circle cx="504.4" cy="479.2" r="0.4" fill="#c6a2d7"/><circle cx="506.0" cy="481.4" r="0.5" fill="#c6a2d7"/><circle cx="509.4" cy="484.4" r="0.9" fill="#c6a2d7"/><ellipse cx="492.6" cy="493.8" rx="6.8" ry="7.3" transform="rotate(20 492.6 493.8)" fill="#a680c1"/>
<circle cx="511.9" cy="536.0" r="2.4" fill="#c6a2d7" stroke="#b48fc9" stroke-width="0.79"/><circle cx="509.5" cy="542.4" r="2.5" fill="#c6a2d7" stroke="#b48fc9" stroke-width="0.79"/><circle cx="507.4" cy="545.9" r="3.3" fill="#c6a2d7" stroke="#b48fc9" stroke-width="0.79"/><circle cx="504.5" cy="547.8" r="1.2" fill="#c6a2d7" stroke="#b48fc9" stroke-width="0.79"/><circle cx="493.4" cy="552.1" r="1.6" fill="#c6a2d7" stroke="#b48fc9" stroke-width="0.79"/><circle cx="493.5" cy="551.3" r="1.4" fill="#c6a2d7" stroke="#b48fc9" stroke-width="0.79"/><circle cx="485.8" cy="550.6" r="1.4" fill="#c6a2d7" stroke="#b48fc9" stroke-width="0.79"/><circle cx="477.4" cy="543.2" r="1.4" fill="#c6a2d7" stroke="#b48fc9" stroke-width="0.79"/><circle cx="474.9" cy="538.4" r="3.4" fill="#c6a2d7" stroke="#b48fc9" stroke-width="0.79"/><circle cx="474.0" cy="534.1" r="1.6" fill="#c6a2d7" stroke="#b48fc9" stroke-width="0.79"/><circle cx="475.2" cy="528.8" r="1.4" fill="#c6a2d7" stroke="#b48fc9" stroke-width="0.79"/><circle cx="477.0" cy="523.2" r="1.0" fill="#c6a2d7" stroke="#b48fc9" stroke-width="0.79"/><circle cx="483.9" cy="516.1" r="1.3" fill="#c6a2d7" stroke="#b48fc9" stroke-width="0.79"/><circle cx="493.2" cy="513.6" r="2.8" fill="#c6a2d7" stroke="#b48fc9" stroke-width="0.79"/><circle cx="497.3" cy="513.9" r="3.0" fill="#c6a2d7" stroke="#b48fc9" stroke-width="0.79"/><circle cx="503.2" cy="516.3" r="1.4" fill="#c6a2d7" stroke="#b48fc9" stroke-width="0.79"/><circle cx="505.6" cy="518.4" r="1.2" fill="#c6a2d7" stroke="#b48fc9" stroke-width="0.79"/><circle cx="511.2" cy="525.3" r="1.6" fill="#c6a2d7" stroke="#b48fc9" stroke-width="0.79"/><circle cx="493.4" cy="532.6" r="17.5" fill="#c6a2d7" stroke="#b48fc9" stroke-width="0.79"/><circle cx="511.9" cy="536.0" r="1.6" fill="#c6a2d7"/><circle cx="509.5" cy="542.4" r="1.7" fill="#c6a2d7"/><circle cx="507.4" cy="545.9" r="2.5" fill="#c6a2d7"/><circle cx="504.5" cy="547.8" r="0.4" fill="#c6a2d7"/><circle cx="493.4" cy="552.1" r="0.8" fill="#c6a2d7"/><circle cx="493.5" cy="551.3" r="0.6" fill="#c6a2d7"/><circle cx="485.8" cy="550.6" r="0.6" fill="#c6a2d7"/><circle cx="477.4" cy="543.2" r="0.6" fill="#c6a2d7"/><circle cx="474.9" cy="538.4" r="2.6" fill="#c6a2d7"/><circle cx="474.0" cy="534.1" r="0.9" fill="#c6a2d7"/><circle cx="475.2" cy="528.8" r="0.7" fill="#c6a2d7"/><circle cx="477.0" cy="523.2" r="0.3" fill="#c6a2d7"/><circle cx="483.9" cy="516.1" r="0.5" fill="#c6a2d7"/><circle cx="493.2" cy="513.6" r="2.0" fill="#c6a2d7"/><circle cx="497.3" cy="513.9" r="2.2" fill="#c6a2d7"/><circle cx="503.2" cy="516.3" r="0.7" fill="#c6a2d7"/><circle cx="505.6" cy="518.4" r="0.4" fill="#c6a2d7"/><circle cx="511.2" cy="525.3" r="0.9" fill="#c6a2d7"/><ellipse cx="493.4" cy="532.6" rx="6.8" ry="7.3" transform="rotate(20 493.4 532.6)" fill="#a680c1"/>
<circle cx="755.5" cy="420.5" r="3.4" fill="#c9a6d8" stroke="#b48fc9" stroke-width="0.72"/><circle cx="752.6" cy="433.9" r="3.1" fill="#c9a6d8" stroke="#b48fc9" stroke-width="0.72"/><circle cx="748.8" cy="438.7" r="1.8" fill="#c9a6d8" stroke="#b48fc9" stroke-width="0.72"/><circle cx="736.8" cy="442.0" r="3.6" fill="#c9a6d8" stroke="#b48fc9" stroke-width="0.72"/><circle cx="729.4" cy="439.7" r="2.8" fill="#c9a6d8" stroke="#b48fc9" stroke-width="0.72"/><circle cx="724.7" cy="435.6" r="2.1" fill="#c9a6d8" stroke="#b48fc9" stroke-width="0.72"/><circle cx="719.8" cy="425.2" r="4.1" fill="#c9a6d8" stroke="#b48fc9" stroke-width="0.72"/><circle cx="721.5" cy="416.9" r="3.7" fill="#c9a6d8" stroke="#b48fc9" stroke-width="0.72"/><circle cx="729.1" cy="407.9" r="2.6" fill="#c9a6d8" stroke="#b48fc9" stroke-width="0.72"/><circle cx="735.9" cy="406.4" r="2.8" fill="#c9a6d8" stroke="#b48fc9" stroke-width="0.72"/><circle cx="748.4" cy="409.4" r="2.4" fill="#c9a6d8" stroke="#b48fc9" stroke-width="0.72"/><circle cx="754.7" cy="416.8" r="1.8" fill="#c9a6d8" stroke="#b48fc9" stroke-width="0.72"/><circle cx="738" cy="424" r="16" fill="#c9a6d8" stroke="#b48fc9" stroke-width="0.72"/><circle cx="755.5" cy="420.5" r="2.7" fill="#c9a6d8"/><circle cx="752.6" cy="433.9" r="2.4" fill="#c9a6d8"/><circle cx="748.8" cy="438.7" r="1.1" fill="#c9a6d8"/><circle cx="736.8" cy="442.0" r="2.9" fill="#c9a6d8"/><circle cx="729.4" cy="439.7" r="2.1" fill="#c9a6d8"/><circle cx="724.7" cy="435.6" r="1.4" fill="#c9a6d8"/><circle cx="719.8" cy="425.2" r="3.4" fill="#c9a6d8"/><circle cx="721.5" cy="416.9" r="3.0" fill="#c9a6d8"/><circle cx="729.1" cy="407.9" r="1.9" fill="#c9a6d8"/><circle cx="735.9" cy="406.4" r="2.1" fill="#c9a6d8"/><circle cx="748.4" cy="409.4" r="1.7" fill="#c9a6d8"/><circle cx="754.7" cy="416.8" r="1.1" fill="#c9a6d8"/>
<circle cx="799.3" cy="423.7" r="3.8" fill="#c6a2d7" stroke="#b48fc9" stroke-width="0.92"/><circle cx="795.6" cy="439.6" r="2.5" fill="#c6a2d7" stroke="#b48fc9" stroke-width="0.92"/><circle cx="792.8" cy="445.2" r="2.2" fill="#c6a2d7" stroke="#b48fc9" stroke-width="0.92"/><circle cx="780.6" cy="449.6" r="3.4" fill="#c6a2d7" stroke="#b48fc9" stroke-width="0.92"/><circle cx="772.4" cy="449.4" r="3.4" fill="#c6a2d7" stroke="#b48fc9" stroke-width="0.92"/><circle cx="763.0" cy="447.3" r="2.6" fill="#c6a2d7" stroke="#b48fc9" stroke-width="0.92"/><circle cx="760.5" cy="442.8" r="3.5" fill="#c6a2d7" stroke="#b48fc9" stroke-width="0.92"/><circle cx="754.5" cy="427.9" r="3.6" fill="#c6a2d7" stroke="#b48fc9" stroke-width="0.92"/><circle cx="754.6" cy="427.1" r="3.4" fill="#c6a2d7" stroke="#b48fc9" stroke-width="0.92"/><circle cx="758.0" cy="415.3" r="3.8" fill="#c6a2d7" stroke="#b48fc9" stroke-width="0.92"/><circle cx="769.1" cy="405.9" r="4.5" fill="#c6a2d7" stroke="#b48fc9" stroke-width="0.92"/><circle cx="776.8" cy="404.0" r="2.3" fill="#c6a2d7" stroke="#b48fc9" stroke-width="0.92"/><circle cx="784.7" cy="406.3" r="3.8" fill="#c6a2d7" stroke="#b48fc9" stroke-width="0.92"/><circle cx="790.7" cy="408.7" r="2.8" fill="#c6a2d7" stroke="#b48fc9" stroke-width="0.92"/><circle cx="796.2" cy="414.6" r="2.6" fill="#c6a2d7" stroke="#b48fc9" stroke-width="0.92"/><circle cx="777" cy="427.5" r="20.5" fill="#c6a2d7" stroke="#b48fc9" stroke-width="0.92"/><circle cx="799.3" cy="423.7" r="2.9" fill="#c6a2d7"/><circle cx="795.6" cy="439.6" r="1.5" fill="#c6a2d7"/><circle cx="792.8" cy="445.2" r="1.3" fill="#c6a2d7"/><circle cx="780.6" cy="449.6" r="2.4" fill="#c6a2d7"/><circle cx="772.4" cy="449.4" r="2.5" fill="#c6a2d7"/><circle cx="763.0" cy="447.3" r="1.7" fill="#c6a2d7"/><circle cx="760.5" cy="442.8" r="2.6" fill="#c6a2d7"/><circle cx="754.5" cy="427.9" r="2.7" fill="#c6a2d7"/><circle cx="754.6" cy="427.1" r="2.5" fill="#c6a2d7"/><circle cx="758.0" cy="415.3" r="2.9" fill="#c6a2d7"/><circle cx="769.1" cy="405.9" r="3.6" fill="#c6a2d7"/><circle cx="776.8" cy="404.0" r="1.4" fill="#c6a2d7"/><circle cx="784.7" cy="406.3" r="2.9" fill="#c6a2d7"/><circle cx="790.7" cy="408.7" r="1.9" fill="#c6a2d7"/><circle cx="796.2" cy="414.6" r="1.7" fill="#c6a2d7"/><ellipse cx="777" cy="427.5" rx="7.5" ry="8.1" transform="rotate(20 777 427.5)" fill="#a680c1"/>
<circle cx="749.8" cy="456.7" r="3.2" fill="#c6a2d7" stroke="#b48fc9" stroke-width="1.06"/><circle cx="747.0" cy="467.4" r="3.4" fill="#c6a2d7" stroke="#b48fc9" stroke-width="1.06"/><circle cx="741.9" cy="476.6" r="2.8" fill="#c6a2d7" stroke="#b48fc9" stroke-width="1.06"/><circle cx="733.8" cy="481.5" r="3.4" fill="#c6a2d7" stroke="#b48fc9" stroke-width="1.06"/><circle cx="725.7" cy="482.2" r="5.1" fill="#c6a2d7" stroke="#b48fc9" stroke-width="1.06"/><circle cx="718.0" cy="481.9" r="3.1" fill="#c6a2d7" stroke="#b48fc9" stroke-width="1.06"/><circle cx="702.1" cy="472.2" r="2.8" fill="#c6a2d7" stroke="#b48fc9" stroke-width="1.06"/><circle cx="700.7" cy="469.9" r="6.0" fill="#c6a2d7" stroke="#b48fc9" stroke-width="1.06"/><circle cx="697.0" cy="458.3" r="5.8" fill="#c6a2d7" stroke="#b48fc9" stroke-width="1.06"/><circle cx="700.6" cy="443.6" r="4.8" fill="#c6a2d7" stroke="#b48fc9" stroke-width="1.06"/><circle cx="703.6" cy="439.7" r="4.2" fill="#c6a2d7" stroke="#b48fc9" stroke-width="1.06"/><circle cx="713.8" cy="431.7" r="4.9" fill="#c6a2d7" stroke="#b48fc9" stroke-width="1.06"/><circle cx="720.4" cy="430.4" r="4.3" fill="#c6a2d7" stroke="#b48fc9" stroke-width="1.06"/><circle cx="736.8" cy="434.1" r="2.8" fill="#c6a2d7" stroke="#b48fc9" stroke-width="1.06"/><circle cx="739.3" cy="435.1" r="4.8" fill="#c6a2d7" stroke="#b48fc9" stroke-width="1.06"/><circle cx="745.5" cy="442.0" r="4.6" fill="#c6a2d7" stroke="#b48fc9" stroke-width="1.06"/><circle cx="723.6" cy="456" r="23.5" fill="#c6a2d7" stroke="#b48fc9" stroke-width="1.06"/><circle cx="749.8" cy="456.7" r="2.2" fill="#c6a2d7"/><circle cx="747.0" cy="467.4" r="2.3" fill="#c6a2d7"/><circle cx="741.9" cy="476.6" r="1.7" fill="#c6a2d7"/><circle cx="733.8" cy="481.5" r="2.4" fill="#c6a2d7"/><circle cx="725.7" cy="482.2" r="4.0" fill="#c6a2d7"/><circle cx="718.0" cy="481.9" r="2.0" fill="#c6a2d7"/><circle cx="702.1" cy="472.2" r="1.8" fill="#c6a2d7"/><circle cx="700.7" cy="469.9" r="4.9" fill="#c6a2d7"/><circle cx="697.0" cy="458.3" r="4.8" fill="#c6a2d7"/><circle cx="700.6" cy="443.6" r="3.7" fill="#c6a2d7"/><circle cx="703.6" cy="439.7" r="3.2" fill="#c6a2d7"/><circle cx="713.8" cy="431.7" r="3.9" fill="#c6a2d7"/><circle cx="720.4" cy="430.4" r="3.2" fill="#c6a2d7"/><circle cx="736.8" cy="434.1" r="1.8" fill="#c6a2d7"/><circle cx="739.3" cy="435.1" r="3.7" fill="#c6a2d7"/><circle cx="745.5" cy="442.0" r="3.5" fill="#c6a2d7"/><ellipse cx="725.1" cy="455" rx="9.5" ry="10.3" transform="rotate(20 725.1 455)" fill="#a680c1"/>
<circle cx="794.9" cy="468.8" r="2.6" fill="#c6a2d7" stroke="#b48fc9" stroke-width="0.97"/><circle cx="790.3" cy="481.7" r="5.4" fill="#c6a2d7" stroke="#b48fc9" stroke-width="0.97"/><circle cx="786.1" cy="485.6" r="4.0" fill="#c6a2d7" stroke="#b48fc9" stroke-width="0.97"/><circle cx="777.0" cy="491.2" r="4.3" fill="#c6a2d7" stroke="#b48fc9" stroke-width="0.97"/><circle cx="766.3" cy="491.4" r="2.5" fill="#c6a2d7" stroke="#b48fc9" stroke-width="0.97"/><circle cx="761.5" cy="491.2" r="4.8" fill="#c6a2d7" stroke="#b48fc9" stroke-width="0.97"/><circle cx="748.0" cy="480.1" r="2.7" fill="#c6a2d7" stroke="#b48fc9" stroke-width="0.97"/><circle cx="746.1" cy="472.2" r="4.4" fill="#c6a2d7" stroke="#b48fc9" stroke-width="0.97"/><circle cx="745.7" cy="466.3" r="2.3" fill="#c6a2d7" stroke="#b48fc9" stroke-width="0.97"/><circle cx="749.7" cy="455.2" r="1.9" fill="#c6a2d7" stroke="#b48fc9" stroke-width="0.97"/><circle cx="758.5" cy="447.6" r="2.6" fill="#c6a2d7" stroke="#b48fc9" stroke-width="0.97"/><circle cx="763.5" cy="444.9" r="5.3" fill="#c6a2d7" stroke="#b48fc9" stroke-width="0.97"/><circle cx="779.6" cy="446.9" r="2.5" fill="#c6a2d7" stroke="#b48fc9" stroke-width="0.97"/><circle cx="788.4" cy="453.0" r="5.1" fill="#c6a2d7" stroke="#b48fc9" stroke-width="0.97"/><circle cx="792.2" cy="463.3" r="2.2" fill="#c6a2d7" stroke="#b48fc9" stroke-width="0.97"/><circle cx="769.7" cy="468.5" r="21.5" fill="#c6a2d7" stroke="#b48fc9" stroke-width="0.97"/><circle cx="794.9" cy="468.8" r="1.6" fill="#c6a2d7"/><circle cx="790.3" cy="481.7" r="4.4" fill="#c6a2d7"/><circle cx="786.1" cy="485.6" r="3.0" fill="#c6a2d7"/><circle cx="777.0" cy="491.2" r="3.3" fill="#c6a2d7"/><circle cx="766.3" cy="491.4" r="1.5" fill="#c6a2d7"/><circle cx="761.5" cy="491.2" r="3.8" fill="#c6a2d7"/><circle cx="748.0" cy="480.1" r="1.8" fill="#c6a2d7"/><circle cx="746.1" cy="472.2" r="3.4" fill="#c6a2d7"/><circle cx="745.7" cy="466.3" r="1.4" fill="#c6a2d7"/><circle cx="749.7" cy="455.2" r="0.9" fill="#c6a2d7"/><circle cx="758.5" cy="447.6" r="1.6" fill="#c6a2d7"/><circle cx="763.5" cy="444.9" r="4.4" fill="#c6a2d7"/><circle cx="779.6" cy="446.9" r="1.6" fill="#c6a2d7"/><circle cx="788.4" cy="453.0" r="4.1" fill="#c6a2d7"/><circle cx="792.2" cy="463.3" r="1.2" fill="#c6a2d7"/><ellipse cx="769.7" cy="468.5" rx="8" ry="8.6" transform="rotate(20 769.7 468.5)" fill="#a680c1"/>
<path d="M873.5,386.5 L864.6,372.4 L870.7,388.0Z M879.0,385.3 L875.9,375.0 L875.8,385.8Z M884.6,386.0 L885.0,375.8 L881.5,385.4Z M888.5,387.7 L891.6,377.2 L885.6,386.3Z M893.5,392.3 L900.7,383.7 L891.4,389.9Z M896.1,397.3 L905.9,391.5 L894.9,394.4Z M896.1,407.6 L905.9,408.1 L896.7,404.5Z M893.3,412.9 L900.3,415.5 L895.0,410.2Z M889.3,416.6 L898.1,425.0 L891.7,414.6Z M881.8,419.4 L884.6,425.0 L884.9,418.7Z M874.6,418.7 L874.6,425.9 L877.7,419.3Z M867.4,414.1 L860.6,424.2 L869.8,416.2Z M865.2,411.3 L861.1,416.3 L867.1,413.8Z M863.2,406.4 L855.4,410.7 L864.2,409.4Z M862.7,402.3 L851.1,405.0 L863.0,405.5Z M864.3,395.3 L854.6,393.7 L863.2,398.4Z M866.8,391.4 L858.0,387.2 L864.9,394.0Z M870.2,388.3 L863.3,382.4 L867.7,390.3Z " fill="#6d6fb4" stroke="#6d6fb4" stroke-width="0.9" stroke-linejoin="round"/><circle cx="879.8" cy="402.4" r="20.0" fill="#8486c6" stroke="#7072b6" stroke-width="0.8"/><circle cx="880.7" cy="402.9" r="10.9" fill="#62619a" stroke="#55558e" stroke-width="0.8"/><circle cx="880.7" cy="384.9" r="1.3" fill="#b9bbe6"/><circle cx="888.9" cy="389.9" r="1.3" fill="#b9bbe6"/><circle cx="863.8" cy="391.2" r="1.3" fill="#b9bbe6"/><circle cx="861.8" cy="402.8" r="1.3" fill="#b9bbe6"/><circle cx="894.2" cy="402.4" r="1.3" fill="#b9bbe6"/><circle cx="882.0" cy="416.3" r="1.3" fill="#b9bbe6"/>
<circle cx="886" cy="503.2" r="21.3" fill="#d690b5" stroke="#bd779f" stroke-width="1.3"/><circle cx="876.5" cy="495.2" r="6.5" fill="#b1628b"/><circle cx="876.0" cy="504.2" r="6.0" fill="#b1628b"/><circle cx="879.5" cy="512.2" r="6.5" fill="#b1628b"/><circle cx="883.0" cy="491.2" r="4.0" fill="#b1628b"/><circle cx="892.0" cy="490.7" r="4.8" fill="#b1628b"/><circle cx="898.0" cy="497.2" r="5.0" fill="#b1628b"/><circle cx="899.0" cy="504.7" r="4.0" fill="#b1628b"/>
<text x="140.0" y="163" font-size="18.5" fill="#151515" font-weight="bold" textLength="282.0" lengthAdjust="spacingAndGlyphs">M-CSF, GM-CSF, SCF, IL-3, FLT-3</text>
<text x="100.0" y="420.5" font-size="18" fill="#151515" font-weight="bold" textLength="144.0" lengthAdjust="spacingAndGlyphs">M-CSF, GM-CSF,</text>
<text x="100.0" y="442.2" font-size="18" fill="#151515" font-weight="bold" textLength="145.0" lengthAdjust="spacingAndGlyphs">SCF, G-CSF, IL-6,</text>
<text x="100.0" y="463.8" font-size="18" fill="#151515" font-weight="bold" textLength="99.5" lengthAdjust="spacingAndGlyphs">TGF-β, IL-2</text>
<text x="110.7" y="245.1" font-size="17" fill="#c02420" font-weight="bold" textLength="34.6" lengthAdjust="spacingAndGlyphs">HSC</text>
<text x="340.6" y="222.0" font-size="16.5" fill="#c02420" font-weight="bold" textLength="38.1" lengthAdjust="spacingAndGlyphs">CMP</text>
<text x="469.3" y="182.4" font-size="17" fill="#c02420" font-weight="bold" textLength="31.6" lengthAdjust="spacingAndGlyphs">iMC</text>
<text x="806.6" y="84.6" font-size="18.5" fill="#c02420" font-weight="bold" textLength="101.1" lengthAdjust="spacingAndGlyphs">Macrophage</text>
<text x="812.2" y="212.7" font-size="18" fill="#c02420" font-weight="bold" textLength="117.1" lengthAdjust="spacingAndGlyphs">Dendritic Cells</text>
<text x="818.4" y="335.8" font-size="18" fill="#c02420" font-weight="bold" textLength="107.1" lengthAdjust="spacingAndGlyphs">Granulocytes</text>
<text x="418.2" y="608.2" font-size="17" fill="#c02420" font-weight="bold" textLength="52.6" lengthAdjust="spacingAndGlyphs">Tumor</text>
<text x="733.2" y="532.2" font-size="17" fill="#c02420" font-weight="bold" textLength="50.1" lengthAdjust="spacingAndGlyphs">MDSC</text>
<text x="924.6" y="410.6" font-size="17.5" fill="#c02420" font-weight="bold" textLength="73.1" lengthAdjust="spacingAndGlyphs">M-MDSC</text>
<text x="932.4" y="508.7" font-size="17.5" fill="#c02420" font-weight="bold" textLength="96.6" lengthAdjust="spacingAndGlyphs">PMN-MDSC</text>
<text x="71.4" y="506.5" font-size="18.6" fill="#c02420" font-weight="bold" textLength="244.1" lengthAdjust="spacingAndGlyphs"><tspan>CD11b</tspan><tspan font-size="12.6" baseline-shift="5.6">+</tspan><tspan>CD14</tspan><tspan font-size="12.6" baseline-shift="5.6">-</tspan><tspan>CD66b</tspan><tspan font-size="12.6" baseline-shift="5.6">+</tspan><tspan>CD15</tspan><tspan font-size="11.5" baseline-shift="7.8">hi</tspan></text>
<text x="323.3" y="506.5" font-size="18.6" fill="#c02420" font-weight="bold" textLength="34.3" lengthAdjust="spacingAndGlyphs">TAN</text>
<text x="189.3" y="569.3" font-size="18.6" fill="#c02420" font-weight="bold" textLength="122.5" lengthAdjust="spacingAndGlyphs"><tspan>CD163</tspan><tspan font-size="12.6" baseline-shift="5.6">+</tspan><tspan>CD206</tspan><tspan font-size="12.6" baseline-shift="5.6">+</tspan></text>
<text x="319.0" y="569.3" font-size="18.6" fill="#c02420" font-weight="bold" textLength="36.5" lengthAdjust="spacingAndGlyphs">TAM</text>
<text x="861.1" y="459.8" font-size="18.6" fill="#c02420" font-weight="bold" textLength="265.5" lengthAdjust="spacingAndGlyphs"><tspan>CD11b</tspan><tspan font-size="12.6" baseline-shift="5.6">+</tspan><tspan>CD14</tspan><tspan font-size="12.6" baseline-shift="5.6">+</tspan><tspan>HLA-DR</tspan><tspan font-size="11.5" baseline-shift="7.4">-/lo</tspan><tspan>CD15</tspan><tspan font-size="12.6" baseline-shift="5.6">-</tspan></text>
<text x="915.9" y="547.8" font-size="18.6" fill="#c02420" font-weight="bold" textLength="174.0" lengthAdjust="spacingAndGlyphs"><tspan>CD11b</tspan><tspan font-size="12.6" baseline-shift="5.6">+</tspan><tspan>CD14</tspan><tspan font-size="12.6" baseline-shift="5.6">-</tspan><tspan>CD15</tspan><tspan font-size="12.6" baseline-shift="5.6">+</tspan></text>
<text x="105.5" y="644.4" font-size="18" fill="#3a9d2c" font-weight="bold" textLength="203.6" lengthAdjust="spacingAndGlyphs">hematopoietic stem cells</text>
<text x="109.6" y="702.5" font-size="18" fill="#3a9d2c" font-weight="bold" textLength="227.2" lengthAdjust="spacingAndGlyphs">common myeloid progenitor</text>
<text x="103.5" y="763.0" font-size="18" fill="#3a9d2c" font-weight="bold" textLength="178.6" lengthAdjust="spacingAndGlyphs">immature myeloid cell</text>
<text x="394.7" y="657.8" font-size="18" fill="#3a9d2c" font-weight="bold" textLength="109.6" lengthAdjust="spacingAndGlyphs">macrophages</text>
<text x="394.3" y="711.4" font-size="18" fill="#3a9d2c" font-weight="bold" textLength="114.0" lengthAdjust="spacingAndGlyphs">dendritic cells</text>
<text x="399.8" y="767.8" font-size="18" fill="#3a9d2c" font-weight="bold" textLength="104.3" lengthAdjust="spacingAndGlyphs">granulocytes</text>
<text x="568.5" y="652.8" font-size="18" fill="#3a9d2c" font-weight="bold" textLength="268.9" lengthAdjust="spacingAndGlyphs">myeloid-derived suppressor cells</text>
<text x="576.6" y="708.5" font-size="18" fill="#3a9d2c" font-weight="bold" textLength="139.7" lengthAdjust="spacingAndGlyphs">monocytic MDSC</text>
<text x="576.6" y="766.8" font-size="18" fill="#3a9d2c" font-weight="bold" textLength="211.7" lengthAdjust="spacingAndGlyphs">polymorphonuclear MDSC</text>
<text x="887.9" y="648.9" font-size="18" fill="#3a9d2c" font-weight="bold" textLength="239.6" lengthAdjust="spacingAndGlyphs">tumor-associated neutrophils</text>
<text x="867.8" y="709.0" font-size="18" fill="#3a9d2c" font-weight="bold" textLength="257.3" lengthAdjust="spacingAndGlyphs">tumor-associated macrophages</text>
<circle cx="79.3" cy="640" r="15.2" fill="#d7b3e0"/><circle cx="78.8" cy="639.5" r="12.8" fill="#c89bcd"/>
<circle cx="76.9" cy="682.1" r="6.6" fill="#fbe9d6" stroke="#f6dcc0" stroke-width="0.6"/><circle cx="99.2" cy="696.7" r="5.2" fill="#fbe9d6" stroke="#f6dcc0" stroke-width="0.6"/><circle cx="84.6" cy="714.1" r="6.0" fill="#fbe9d6" stroke="#f6dcc0" stroke-width="0.6"/><circle cx="63.6" cy="704.4" r="4.4" fill="#fbe9d6" stroke="#f6dcc0" stroke-width="0.6"/><circle cx="66.4" cy="695.3" r="6.9" fill="#f9dbb4" stroke="#f0c796" stroke-width="1.0"/><circle cx="66.4" cy="695.3" r="3.7" fill="#f0b28f"/><circle cx="78.0" cy="690.8" r="7.2" fill="#f9dbb4" stroke="#f0c796" stroke-width="1.0"/><circle cx="78.0" cy="690.8" r="3.7" fill="#f0b28f"/><circle cx="88.4" cy="690.8" r="7.3" fill="#f9dbb4" stroke="#f0c796" stroke-width="1.0"/><circle cx="88.4" cy="690.8" r="3.7" fill="#f0b28f"/><circle cx="91.6" cy="703.0" r="7.2" fill="#f9dbb4" stroke="#f0c796" stroke-width="1.0"/><circle cx="91.6" cy="703.0" r="3.7" fill="#f0b28f"/><circle cx="72.8" cy="707.9" r="7.3" fill="#f9dbb4" stroke="#f0c796" stroke-width="1.0"/><circle cx="72.8" cy="707.9" r="3.7" fill="#f0b28f"/><circle cx="81.8" cy="699.5" r="7.4" fill="#f9dbb4" stroke="#f0c796" stroke-width="1.0"/><circle cx="81.8" cy="699.5" r="3.7" fill="#f0b28f"/>
<circle cx="80" cy="757.7" r="15.6" fill="#caa0cf" stroke="#b48ac0" stroke-width="1"/><circle cx="77.2" cy="751.4" r="6.3" fill="#7b4e9b"/><circle cx="86.7" cy="760.9" r="6.3" fill="#7b4e9b"/><circle cx="76.1" cy="766.8" r="1.4" fill="#7b4e9b"/>
<path d="M367.0,638.0 Q370.5,638.8 372.9,641.4 Q375.8,642.1 377.7,644.3 Q380.1,644.9 381.8,646.7 Q382.8,650.6 381.2,654.4 Q381.0,657.8 378.8,660.4 Q378.7,664.0 376.5,666.9 Q373.1,668.6 369.4,668.0 Q366.7,670.0 363.4,670.1 Q359.7,668.8 357.5,665.7 Q352.4,664.0 349.2,659.8 Q349.0,655.9 351.0,652.6 Q350.5,648.9 352.2,645.5 Q355.1,642.3 359.3,641.4 Q362.6,638.5 367.0,638.0 Z" fill="#f6c4c8" stroke="#eca4ab" stroke-width="0.53" stroke-linejoin="round"/><circle cx="352.7" cy="639.0" r="3.4" fill="#f6c4c8" stroke="#eca4ab" stroke-width="0.42400000000000004"/><circle cx="379.1" cy="640.8" r="2.9" fill="#f6c4c8" stroke="#eca4ab" stroke-width="0.42400000000000004"/><circle cx="349.2" cy="649.1" r="1.9" fill="#f6c4c8" stroke="#eca4ab" stroke-width="0.42400000000000004"/><circle cx="383.0" cy="659.5" r="2.7" fill="#f6c4c8" stroke="#eca4ab" stroke-width="0.42400000000000004"/><circle cx="353.9" cy="664.8" r="2.4" fill="#f6c4c8" stroke="#eca4ab" stroke-width="0.42400000000000004"/><circle cx="349.5" cy="669.6" r="1.9" fill="#f6c4c8" stroke="#eca4ab" stroke-width="0.42400000000000004"/><circle cx="357.7" cy="671.3" r="2.9" fill="#f6c4c8" stroke="#eca4ab" stroke-width="0.42400000000000004"/><circle cx="377.6" cy="668.9" r="2.7" fill="#f6c4c8" stroke="#eca4ab" stroke-width="0.42400000000000004"/><ellipse cx="361.6" cy="649.7" rx="4.8" ry="5.8" transform="rotate(35 361.6 649.7)" fill="#e0959d"/><ellipse cx="370.2" cy="653.8" rx="2.7" ry="5.8" fill="#e0959d"/><circle cx="363.7" cy="659.2" r="2.4" fill="#e0959d"/>
<path d="M359.6,703.0 C358.5,702.4 355.1,700.6 352.8,699.2 C350.4,697.9 346.5,695.6 345.2,694.9  M360.9,699.9 C360.5,699.1 359.7,696.5 358.9,694.9 C358.2,693.3 357.1,691.7 356.4,690.5 C355.8,689.4 355.2,688.5 354.9,688.0  M363.0,699.9 L362.4,695.9 M366.4,699.2 C367.0,698.3 368.8,695.3 369.6,693.6 C370.3,692.0 370.8,690.6 371.1,689.3 C371.4,688.0 371.4,686.5 371.4,685.9  M370.8,700.5 C371.4,699.8 373.0,697.5 374.5,696.1 C376.0,694.8 378.9,693.1 379.8,692.5  M371.4,701.8 C372.2,701.3 374.2,700.1 376.4,699.2 C378.6,698.4 383.1,697.2 384.4,696.8  M371.4,707.4 C372.8,707.5 377.1,707.5 379.5,708.0 C381.9,708.5 384.7,710.0 385.7,710.5  M370.2,709.9 C371.2,710.2 374.5,710.7 376.4,711.7 C378.3,712.7 380.5,715.1 381.4,715.8  M367.1,711.7 C367.6,712.5 369.0,715.0 370.2,716.7 C371.3,718.4 373.0,720.2 373.9,721.6 C374.8,723.1 375.4,724.8 375.8,725.4  M363.3,711.1 C363.1,712.0 362.8,715.0 362.1,716.7 C361.3,718.4 360.0,720.0 358.9,721.0 C357.9,722.1 356.1,722.9 355.6,723.2  M360.9,709.9 C360.0,710.7 357.6,713.2 355.9,714.9 C354.1,716.5 351.4,718.7 350.6,719.5  M359.6,708.0 C358.7,708.5 355.8,710.2 354.0,711.1 C352.2,712.0 349.8,712.9 349.0,713.2  M359.6,706.8 L356.2,706.8 " fill="none" stroke="#9fd3cf" stroke-width="1.25" stroke-linecap="round"/><ellipse cx="365.8" cy="705.5" rx="6.4" ry="5.8" fill="#d4eeec" stroke="#a3d6d1" stroke-width="0.5"/><ellipse cx="366.8" cy="707.0" rx="3.5" ry="2.5" transform="rotate(-30 366.8 707.0)" fill="#a6d9d5"/>
<ellipse cx="354.5" cy="763.7" rx="8.7" ry="9.4" fill="#fbf0c6" stroke="#e0bf7c" stroke-width="0.72" stroke-dasharray="0.88 0.72"/><ellipse cx="370.5" cy="756.5" rx="9.9" ry="11.4" fill="#fbf0c6" stroke="#e0bf7c" stroke-width="0.72" stroke-dasharray="0.88 0.72"/><ellipse cx="362.8" cy="762.5" rx="5.0" ry="6.1" fill="#fbf0c6"/><circle cx="371.1" cy="758.1" r="4.0" fill="#f2c592"/><ellipse cx="370.2" cy="744.0" rx="3.7" ry="2.8" transform="rotate(0 370.2 744.0)" fill="#fbf0c6" stroke="#e2c27e" stroke-width="0.5"/><ellipse cx="359.1" cy="744.6" rx="1.8" ry="1.3" transform="rotate(-40 359.1 744.6)" fill="#fbf0c6" stroke="#e2c27e" stroke-width="0.5"/><ellipse cx="352.6" cy="750.4" rx="2.1" ry="1.4" transform="rotate(-30 352.6 750.4)" fill="#fbf0c6" stroke="#e2c27e" stroke-width="0.5"/><ellipse cx="346.2" cy="756.2" rx="1.5" ry="1.1" transform="rotate(-45 346.2 756.2)" fill="#fbf0c6" stroke="#e2c27e" stroke-width="0.5"/><ellipse cx="361.6" cy="774.7" rx="2.4" ry="1.8" transform="rotate(0 361.6 774.7)" fill="#fbf0c6" stroke="#e2c27e" stroke-width="0.5"/><ellipse cx="374.5" cy="771.4" rx="2.4" ry="1.5" transform="rotate(-30 374.5 771.4)" fill="#fbf0c6" stroke="#e2c27e" stroke-width="0.5"/><ellipse cx="379.4" cy="767.3" rx="1.8" ry="1.5" transform="rotate(0 379.4 767.3)" fill="#fbf0c6" stroke="#e2c27e" stroke-width="0.5"/><circle cx="382.6" cy="748.1" r="3.3" fill="#fcf3d6" opacity="0.8"/>
<circle cx="563.3" cy="648.3" r="1.3" fill="#c6a2d7" stroke="#b48fc9" stroke-width="0.58"/><circle cx="562.5" cy="655.2" r="2.0" fill="#c6a2d7" stroke="#b48fc9" stroke-width="0.58"/><circle cx="554.8" cy="663.3" r="1.7" fill="#c6a2d7" stroke="#b48fc9" stroke-width="0.58"/><circle cx="550.1" cy="664.5" r="3.6" fill="#c6a2d7" stroke="#b48fc9" stroke-width="0.58"/><circle cx="544.3" cy="663.1" r="2.0" fill="#c6a2d7" stroke="#b48fc9" stroke-width="0.58"/><circle cx="539.1" cy="660.2" r="1.9" fill="#c6a2d7" stroke="#b48fc9" stroke-width="0.58"/><circle cx="534.4" cy="652.6" r="3.4" fill="#c6a2d7" stroke="#b48fc9" stroke-width="0.58"/><circle cx="535.5" cy="644.0" r="1.4" fill="#c6a2d7" stroke="#b48fc9" stroke-width="0.58"/><circle cx="537.3" cy="640.1" r="1.6" fill="#c6a2d7" stroke="#b48fc9" stroke-width="0.58"/><circle cx="546.2" cy="634.6" r="1.9" fill="#c6a2d7" stroke="#b48fc9" stroke-width="0.58"/><circle cx="551.1" cy="635.2" r="3.6" fill="#c6a2d7" stroke="#b48fc9" stroke-width="0.58"/><circle cx="556.8" cy="637.8" r="3.0" fill="#c6a2d7" stroke="#b48fc9" stroke-width="0.58"/><circle cx="561.6" cy="642.5" r="3.6" fill="#c6a2d7" stroke="#b48fc9" stroke-width="0.58"/><circle cx="548.8" cy="649.8" r="12.8" fill="#c6a2d7" stroke="#b48fc9" stroke-width="0.58"/><circle cx="563.3" cy="648.3" r="0.8" fill="#c6a2d7"/><circle cx="562.5" cy="655.2" r="1.5" fill="#c6a2d7"/><circle cx="554.8" cy="663.3" r="1.1" fill="#c6a2d7"/><circle cx="550.1" cy="664.5" r="3.0" fill="#c6a2d7"/><circle cx="544.3" cy="663.1" r="1.4" fill="#c6a2d7"/><circle cx="539.1" cy="660.2" r="1.4" fill="#c6a2d7"/><circle cx="534.4" cy="652.6" r="2.8" fill="#c6a2d7"/><circle cx="535.5" cy="644.0" r="0.8" fill="#c6a2d7"/><circle cx="537.3" cy="640.1" r="1.0" fill="#c6a2d7"/><circle cx="546.2" cy="634.6" r="1.4" fill="#c6a2d7"/><circle cx="551.1" cy="635.2" r="3.0" fill="#c6a2d7"/><circle cx="556.8" cy="637.8" r="2.4" fill="#c6a2d7"/><circle cx="561.6" cy="642.5" r="3.0" fill="#c6a2d7"/><ellipse cx="548.8" cy="649.8" rx="4.6" ry="5.0" transform="rotate(20 548.8 649.8)" fill="#a680c1"/>
<path d="M545.0,696.7 L539.7,688.2 L543.3,697.5Z M548.3,696.0 L546.5,689.8 L546.4,696.2Z M551.7,696.4 L551.9,690.2 L549.8,696.0Z M554.0,697.4 L555.9,691.1 L552.3,696.6Z M557.0,700.1 L561.3,695.0 L555.8,698.7Z M558.6,703.2 L564.5,699.7 L557.8,701.4Z M558.6,709.3 L564.5,709.6 L559.0,707.4Z M556.9,712.5 L561.1,714.1 L557.9,710.9Z M554.5,714.7 L559.8,719.8 L556.0,713.5Z M550.0,716.4 L551.7,719.8 L551.9,716.0Z M545.7,716.0 L545.7,720.3 L547.5,716.4Z M541.3,713.2 L537.3,719.3 L542.8,714.5Z M540.0,711.5 L537.6,714.5 L541.2,713.1Z M538.8,708.6 L534.2,711.2 L539.5,710.4Z M538.6,706.2 L531.6,707.8 L538.7,708.1Z M539.5,702.0 L533.7,701.0 L538.8,703.8Z M541.0,699.6 L535.7,697.1 L539.9,701.2Z M543.0,697.7 L538.9,694.2 L541.6,698.9Z " fill="#6d6fb4" stroke="#6d6fb4" stroke-width="0.5" stroke-linejoin="round"/><circle cx="548.8" cy="706.2" r="12.0" fill="#8486c6" stroke="#7072b6" stroke-width="0.5"/><circle cx="549.3" cy="706.5" r="6.5" fill="#62619a" stroke="#55558e" stroke-width="0.5"/><circle cx="549.3" cy="695.7" r="0.8" fill="#b9bbe6"/><circle cx="554.3" cy="698.7" r="0.8" fill="#b9bbe6"/><circle cx="539.2" cy="699.5" r="0.8" fill="#b9bbe6"/><circle cx="538.0" cy="706.4" r="0.8" fill="#b9bbe6"/><circle cx="557.4" cy="706.2" r="0.8" fill="#b9bbe6"/><circle cx="550.1" cy="714.5" r="0.8" fill="#b9bbe6"/>
<circle cx="550.8" cy="762.8" r="14.5" fill="#d690b5" stroke="#bd779f" stroke-width="0.9"/><circle cx="544.3" cy="757.4" r="4.4" fill="#b1628b"/><circle cx="544.0" cy="763.5" r="4.1" fill="#b1628b"/><circle cx="546.4" cy="768.9" r="4.4" fill="#b1628b"/><circle cx="548.8" cy="754.6" r="2.7" fill="#b1628b"/><circle cx="554.9" cy="754.3" r="3.3" fill="#b1628b"/><circle cx="559.0" cy="758.7" r="3.4" fill="#b1628b"/><circle cx="559.6" cy="763.8" r="2.7" fill="#b1628b"/>
<ellipse cx="862.9" cy="641.9" rx="13.8" ry="13" fill="#fbefc3" stroke="#e8d49a" stroke-width="1"/><circle cx="865.3" cy="642.6" r="4.9" fill="#f3c693"/>
<ellipse cx="850.4" cy="701.8" rx="13.5" ry="12.8" fill="#dae8f1" stroke="#b3cfe4" stroke-width="1"/><circle cx="852.3" cy="702" r="4.9" fill="#bad6e6"/>
</svg></body></html>
